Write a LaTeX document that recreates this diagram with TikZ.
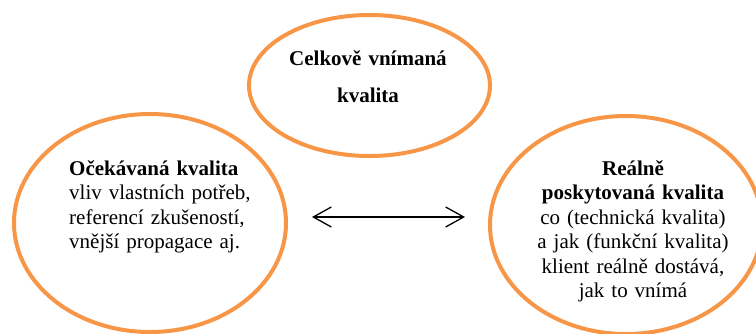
\documentclass[tikz,border=0pt]{standalone}
\usepackage{fontspec}
\setmainfont{Liberation Serif}
\usepackage{tikz}
\usetikzlibrary{shapes.geometric}
\usetikzlibrary{arrows.meta}
\definecolor{oranzova}{HTML}{F79646}

\begin{document}
\begin{tikzpicture}[x=1pt, y=-1pt,
		kruh/.style={ellipse, draw=oranzova, line width=4pt, minimum width=272pt, minimum height=218pt, inner sep=0pt},
		popis/.style={inner sep=0pt, font=\fontsize{21}{24.5}\selectfont},
		sipka/.style={{Straight Barb[length=18pt, width=20pt]}-{Straight Barb[length=18pt, width=20pt]}, line width=1.3pt}]
	\useasboundingbox (0,0) rectangle (756,333);
	
	% --- elipsy ---
	\node[kruh, minimum width=241pt, minimum height=141pt] (celkova) at (369.5,85.5) {};
	\node[kruh] (ocekavana) at (150,223) {};
	\node[kruh] (realna) at (626,225) {};
	
	% --- texty v elipsach ---
	\node[popis, text width=220pt, align=center, anchor=base, font=\fontsize{21}{37}\selectfont\bfseries] (celkova-text) at (368,65) {Celkově vnímaná\\ kvalita};
	\node[popis, text width=220pt, align=left, anchor=base west] (ocekavana-text) at (69,175)
		{\textbf{Očekávaná kvalita}\\ vliv vlastních potřeb,\\ referencí zkušeností,\\ vnější propagace aj.};
	\node[popis, text width=240pt, align=center, anchor=base] (realna-text) at (633,175)
		{\textbf{Reálně}\\ \textbf{poskytovaná kvalita}\\ co (technická kvalita)\\ a jak (funkční kvalita)\\ klient reálně dostává,\\ jak to vnímá};
	
	% --- obousmerna sipka ---
	\draw[sipka, shorten <=24pt, shorten >=23pt] ([yshift=6pt]ocekavana.east) -- ([yshift=8pt]realna.west);
\end{tikzpicture}
\end{document}
